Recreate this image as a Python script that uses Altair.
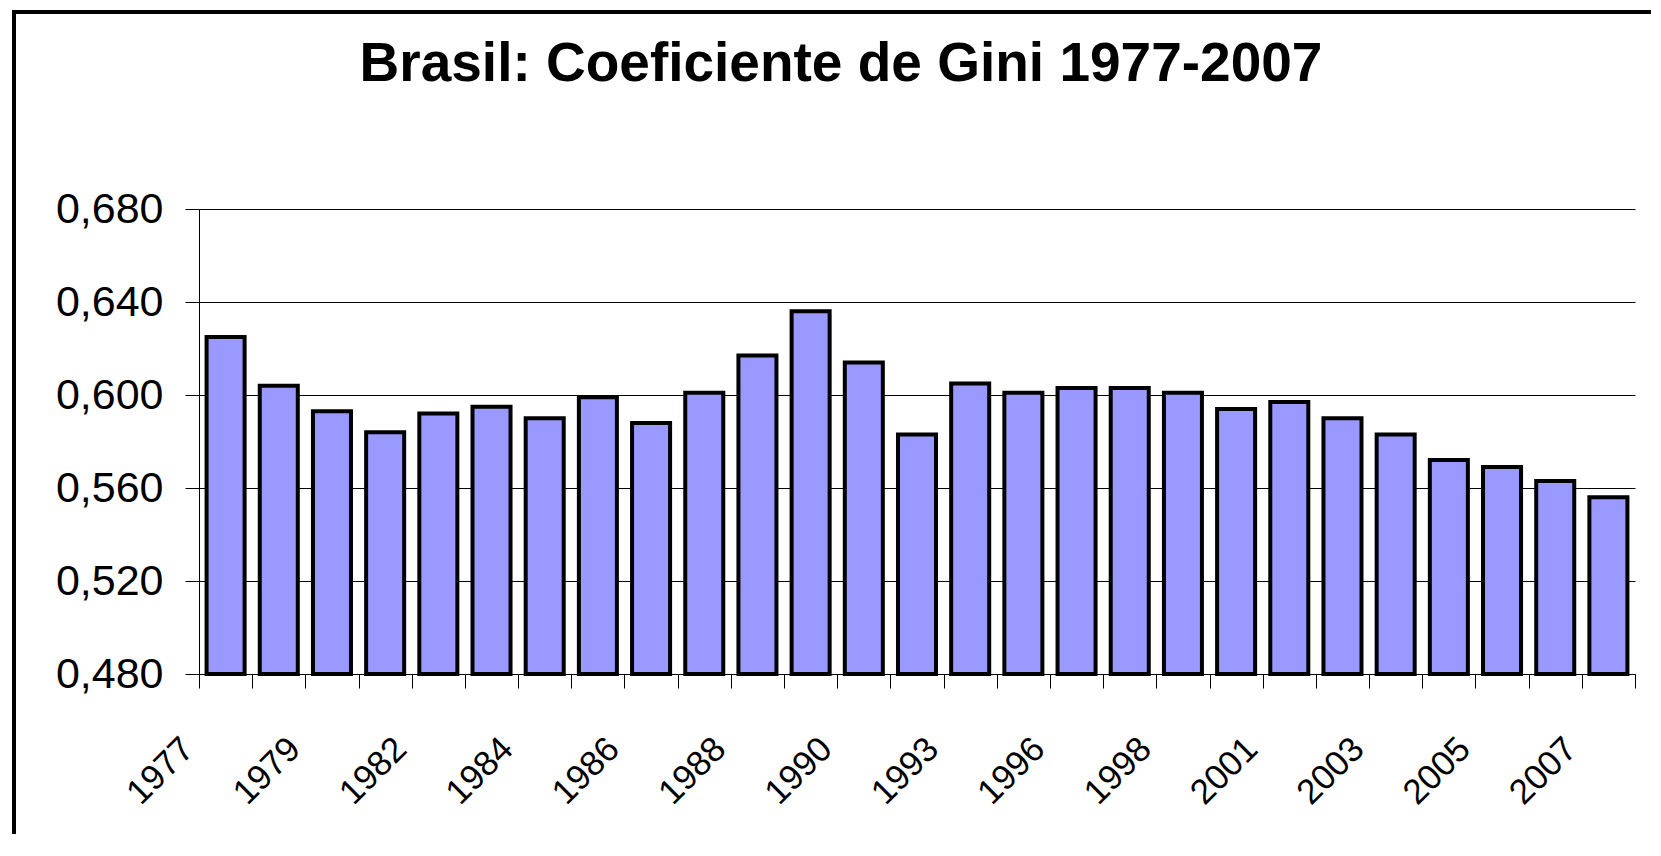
import altair as alt
import pandas as pd

# Data
years = ["1977", "1978", "1979", "1981", "1982", "1983", "1984", "1985", "1986",
         "1987", "1988", "1989", "1990", "1992", "1993", "1995", "1996", "1997",
         "1998", "1999", "2001", "2002", "2003", "2004", "2005", "2006", "2007"]
gini = [0.625, 0.604, 0.593, 0.584, 0.592, 0.595, 0.590, 0.599, 0.588,
        0.601, 0.617, 0.636, 0.614, 0.583, 0.605, 0.601, 0.603, 0.603,
        0.601, 0.594, 0.597, 0.590, 0.583, 0.572, 0.569, 0.563, 0.556]
shown_labels = ["1977", "1979", "1982", "1984", "1986", "1988", "1990",
                "1993", "1996", "1998", "2001", "2003", "2005", "2007"]
y_ticks = [0.48, 0.52, 0.56, 0.60, 0.64, 0.68]
title_text = "Brasil: Coeficiente de Gini 1977-2007"

df = pd.DataFrame({"ano": years, "gini": gini})

W, H = 1436, 465
FONT = "Liberation Sans"

label_list = "[" + ",".join("'" + s + "'" for s in shown_labels) + "]"

bars = alt.Chart(df).mark_bar(
    color="#9999FF", stroke="black", strokeWidth=4,
    width=alt.RelativeBandSize(0.715)
).encode(
    x=alt.X("ano:N", sort=years, title=None,
            scale=alt.Scale(paddingInner=0, paddingOuter=0),
            axis=alt.Axis(
                tickBand="extent", labelAngle=-45, labelAlign="right",
                labelBaseline="middle", labelFontSize=35, labelFont=FONT,
                labelColor="black", labelPadding=55, labelOffset=-38,
                labelOverlap=False, labelBound=False,
                labelExpr="indexof(" + label_list + ", datum.label) >= 0 ? datum.label : ''",
                tickSize=14, tickColor="black", tickWidth=1,
                domainColor="black", domainWidth=1, grid=False)),
    y=alt.Y("gini:Q", title=None,
            scale=alt.Scale(domain=[0.48, 0.68], zero=False, nice=False),
            axis=alt.Axis(
                values=y_ticks,
                labelExpr="replace(format(datum.value, '.3f'), '.', ',')",
                labelFontSize=43, labelFont=FONT, labelColor="black",
                labelPadding=22, tickSize=14, tickColor="black", tickWidth=1,
                domainColor="black", domainWidth=1,
                grid=True, gridColor="black", gridWidth=1, gridOpacity=1)),
    y2=alt.datum(0.48),
)

frame = alt.Chart(pd.DataFrame({"f": [0]})).mark_rect(
    filled=False, stroke="black", strokeWidth=4
).encode(
    x=alt.value(-185), x2=alt.value(W + 200),
    y=alt.value(-197), y2=alt.value(H + 400),
)

chart = alt.layer(frame, bars).properties(
    width=W, height=H,
    title=alt.TitleParams(
        title_text, font=FONT, fontSize=55, fontWeight="bold", color="black",
        anchor="middle", frame="group", dx=-76, dy=126, offset=0,
        baseline="alphabetic"),
    autosize=alt.AutoSizeParams(type="none"),
    padding={"left": 191, "top": 201, "right": 16, "bottom": 160},
    background="white",
).configure_view(stroke=None)

chart.save("out.html", embed_options={"renderer": "svg", "actions": False})
